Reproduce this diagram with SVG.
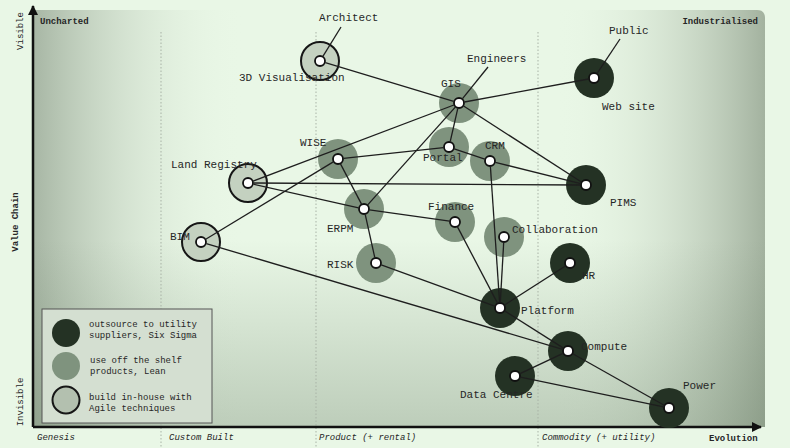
<svg xmlns="http://www.w3.org/2000/svg" width="790" height="448" viewBox="0 0 790 448">
<defs>
<linearGradient id="gl" x1="0" y1="0" x2="1" y2="0">
<stop offset="0" stop-color="#a7b6a4"/>
<stop offset="1" stop-color="#e9f7e6" stop-opacity="0"/>
</linearGradient>
<linearGradient id="gr" x1="0" y1="0" x2="1" y2="0">
<stop offset="0" stop-color="#e9f7e6" stop-opacity="0"/>
<stop offset="1" stop-color="#a3b29f"/>
</linearGradient>
<linearGradient id="gb" x1="0" y1="0" x2="0" y2="1">
<stop offset="0" stop-color="#5f745c" stop-opacity="0"/>
<stop offset="1" stop-color="#5f745c" stop-opacity="0.32"/>
</linearGradient>
<marker id="arr" viewBox="0 0 10 10" refX="9" refY="5" markerWidth="4" markerHeight="4" orient="auto">
<path d="M0,0 L10,5 L0,10 Z" fill="#111"/>
</marker>
</defs>
<style>
text{font-family:"Liberation Mono","DejaVu Sans Mono",monospace;fill:#262626}
.lbl{font-size:11px}
.sm{font-size:9px}
.b{font-weight:bold;font-size:9px}
.it{font-style:italic;font-size:9px}
.dot{fill:#fff;stroke:#111;stroke-width:1.8}
.dark{fill:#243224}
.gray{fill:#7f937e}
.light{fill:#c4d1c0;stroke:#161616;stroke-width:2}
.edge{stroke:#1e1e1e;stroke-width:1.3;fill:none}
.grid{stroke:#a9b3a6;stroke-width:1;stroke-dasharray:1.5,2}
</style>
<rect width="790" height="448" fill="#e9f7e6"/>
<g id="background">
<rect x="33" y="10" width="210" height="417" fill="url(#gl)"/>
<path d="M555,10 H757 Q765,10 765,18 V427 H555 Z" fill="url(#gr)"/>
<rect x="33" y="240" width="732" height="187" fill="url(#gb)"/>
<line class="grid" x1="161" y1="32" x2="161" y2="448"/>
<line class="grid" x1="316" y1="32" x2="316" y2="448"/>
<line class="grid" x1="538" y1="32" x2="538" y2="448"/>
</g>
<g id="axes">
<line x1="33" y1="427" x2="33" y2="6" stroke="#111" stroke-width="2.5" marker-end="url(#arr)"/>
<line x1="33" y1="427" x2="761" y2="427" stroke="#111" stroke-width="2.5" marker-end="url(#arr)"/>
<text class="b" x="40" y="24">Uncharted</text>
<text class="b" x="758" y="24" text-anchor="end">Industrialised</text>
<text class="sm" transform="translate(23,31) rotate(-90)" text-anchor="middle">Visible</text>
<text class="b" transform="translate(18,222) rotate(-90)" text-anchor="middle">Value Chain</text>
<text class="sm" transform="translate(23,402) rotate(-90)" text-anchor="middle">Invisible</text>
<text class="it" x="37" y="440">Genesis</text>
<text class="it" x="169" y="440">Custom Built</text>
<text class="it" x="319" y="440">Product (+ rental)</text>
<text class="it" x="542" y="440">Commodity (+ utility)</text>
<text class="b" x="709" y="441">Evolution</text>
</g>
<g id="n-3dvis"><circle class="light" cx="320" cy="61" r="19"/><circle class="dot" cx="320" cy="61" r="5"/><text class="lbl" x="319" y="21">Architect</text><text class="lbl" x="239" y="81">3D Visualisation</text></g>
<g id="n-gis"><circle class="gray" cx="459" cy="103" r="20"/><circle class="dot" cx="459" cy="103" r="5"/><text class="lbl" x="441" y="87">GIS</text><text class="lbl" x="467" y="62">Engineers</text></g>
<g id="n-website"><circle class="dark" cx="594" cy="78" r="20"/><circle class="dot" cx="594" cy="78" r="5"/><text class="lbl" x="609" y="34">Public</text><text class="lbl" x="602" y="110">Web site</text></g>
<g id="n-portal"><circle class="gray" cx="449" cy="147" r="20"/><circle class="dot" cx="449" cy="147" r="5"/><text class="lbl" x="423" y="161">Portal</text></g>
<g id="n-crm"><circle class="gray" cx="490" cy="161" r="20"/><circle class="dot" cx="490" cy="161" r="5"/><text class="lbl" x="485" y="149">CRM</text></g>
<g id="n-wise"><circle class="gray" cx="338" cy="159" r="20"/><circle class="dot" cx="338" cy="159" r="5"/><text class="lbl" x="300" y="146">WISE</text></g>
<g id="n-landreg"><circle class="light" cx="248" cy="183" r="19"/><circle class="dot" cx="248" cy="183" r="5"/><text class="lbl" x="171" y="168">Land Registry</text></g>
<g id="n-pims"><circle class="dark" cx="586" cy="185" r="20"/><circle class="dot" cx="586" cy="185" r="5"/><text class="lbl" x="610" y="206">PIMS</text></g>
<g id="n-erpm"><circle class="gray" cx="364" cy="209" r="20"/><circle class="dot" cx="364" cy="209" r="5"/><text class="lbl" x="327" y="232">ERPM</text></g>
<g id="n-finance"><circle class="gray" cx="455" cy="222" r="20"/><circle class="dot" cx="455" cy="222" r="5"/><text class="lbl" x="428" y="210">Finance</text></g>
<g id="n-collab"><circle class="gray" cx="504" cy="237" r="20"/><circle class="dot" cx="504" cy="237" r="5"/><text class="lbl" x="512" y="233">Collaboration</text></g>
<g id="n-bim"><circle class="light" cx="201" cy="242" r="19"/><circle class="dot" cx="201" cy="242" r="5"/><text class="lbl" x="170" y="240">BIM</text></g>
<g id="n-risk"><circle class="gray" cx="376" cy="263" r="20"/><circle class="dot" cx="376" cy="263" r="5"/><text class="lbl" x="327" y="268">RISK</text></g>
<g id="n-hr"><circle class="dark" cx="570" cy="263" r="20"/><circle class="dot" cx="570" cy="263" r="5"/><text class="lbl" x="582" y="279">HR</text></g>
<g id="n-platform"><circle class="dark" cx="500" cy="308" r="20"/><circle class="dot" cx="500" cy="308" r="5"/><text class="lbl" x="521" y="314">Platform</text></g>
<g id="n-compute"><circle class="dark" cx="568" cy="351" r="20"/><circle class="dot" cx="568" cy="351" r="5"/><text class="lbl" x="581" y="350">Compute</text></g>
<g id="n-datacentre"><circle class="dark" cx="515" cy="376" r="20"/><circle class="dot" cx="515" cy="376" r="5"/><text class="lbl" x="460" y="398">Data Centre</text></g>
<g id="n-power"><circle class="dark" cx="669" cy="408" r="20"/><circle class="dot" cx="669" cy="408" r="5"/><text class="lbl" x="683" y="389">Power</text></g>
<g id="connectors">
<line class="edge" x1="325.3" y1="62.6" x2="453.7" y2="101.4"/>
<line class="edge" x1="464.4" y1="102" x2="588.6" y2="79"/>
<line class="edge" x1="453.9" y1="105" x2="253.1" y2="181.1"/>
<line class="edge" x1="457.8" y1="108.4" x2="450.2" y2="141.6"/>
<line class="edge" x1="463.6" y1="106" x2="581.4" y2="182"/>
<line class="edge" x1="455.3" y1="107.1" x2="367.7" y2="204.9"/>
<line class="edge" x1="205.7" y1="239.2" x2="333.3" y2="161.9"/>
<line class="edge" x1="343.5" y1="158.4" x2="443.5" y2="147.6"/>
<line class="edge" x1="340.5" y1="163.9" x2="361.5" y2="204.1"/>
<line class="edge" x1="454.2" y1="148.8" x2="484.8" y2="159.2"/>
<line class="edge" x1="495.3" y1="162.3" x2="580.7" y2="183.7"/>
<line class="edge" x1="253.5" y1="183" x2="580.5" y2="185"/>
<line class="edge" x1="253.4" y1="184.2" x2="358.6" y2="207.8"/>
<line class="edge" x1="369.4" y1="209.8" x2="449.6" y2="221.2"/>
<line class="edge" x1="365.2" y1="214.4" x2="374.8" y2="257.6"/>
<line class="edge" x1="381.2" y1="264.9" x2="494.8" y2="306.1"/>
<line class="edge" x1="457.5" y1="226.9" x2="497.5" y2="303.1"/>
<line class="edge" x1="490.4" y1="166.5" x2="499.6" y2="302.5"/>
<line class="edge" x1="503.7" y1="242.5" x2="500.3" y2="302.5"/>
<line class="edge" x1="565.4" y1="266" x2="504.6" y2="305"/>
<line class="edge" x1="206.3" y1="243.6" x2="562.7" y2="349.4"/>
<line class="edge" x1="504.6" y1="310.9" x2="563.4" y2="348.1"/>
<line class="edge" x1="563" y1="353.3" x2="520" y2="373.6"/>
<line class="edge" x1="572.8" y1="353.7" x2="664.2" y2="405.3"/>
<line class="edge" x1="520.4" y1="377.1" x2="663.6" y2="406.9"/>
<line class="edge" x1="341" y1="27" x2="322.9" y2="56.3"/>
<line class="edge" x1="488" y1="67" x2="462.5" y2="98.7"/>
<line class="edge" x1="620" y1="39" x2="597.1" y2="73.4"/>
</g>
<g id="legend">
<rect x="42" y="309" width="170" height="114" fill="#d4dfd1" stroke="#555" stroke-width="1"/>
<circle class="dark" cx="66" cy="333" r="14"/>
<circle class="gray" cx="66" cy="366" r="14"/>
<circle cx="66" cy="400" r="13.5" fill="#b3c0af" stroke="#161616" stroke-width="2"/>
<text class="sm" x="89" y="327">outsource to utility</text>
<text class="sm" x="89" y="338">suppliers, Six Sigma</text>
<text class="sm" x="90" y="363">use off the shelf</text>
<text class="sm" x="90" y="374">products, Lean</text>
<text class="sm" x="89" y="400">build in-house with</text>
<text class="sm" x="89" y="411">Agile techniques</text>
</g>
</svg>
